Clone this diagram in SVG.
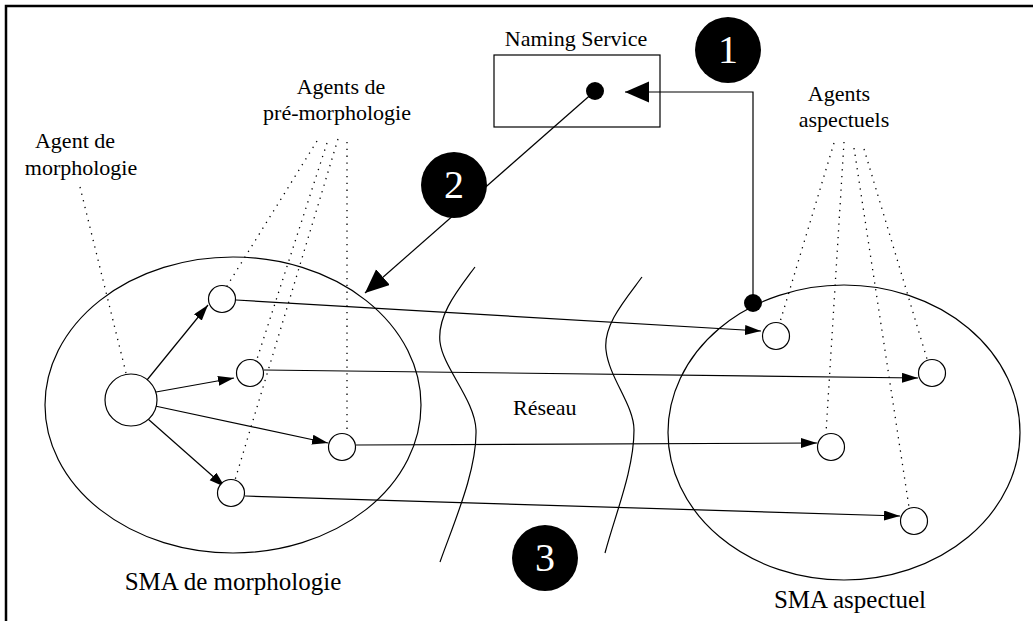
<svg xmlns="http://www.w3.org/2000/svg" width="1033" height="621" viewBox="0 0 1033 621">
<style>
.ln{fill:none;stroke:#000;stroke-width:1.2}
.dot{fill:none;stroke:#000;stroke-width:1.3;stroke-dasharray:1.3 5.5}
.ag{fill:#fff;stroke:#000;stroke-width:1.2}
.t{font-family:"Liberation Serif",serif;font-size:22px;fill:#000}
.big{font-family:"Liberation Serif",serif;font-size:25px;fill:#000}
.num{font-family:"Liberation Serif",serif;font-size:40px;fill:#fff;text-anchor:middle}
</style>
<defs>
<marker id="sa" markerUnits="userSpaceOnUse" markerWidth="18" markerHeight="12" refX="16" refY="5" orient="auto">
<path d="M0,0 L16,5 L0,10 Z" fill="#000"/>
</marker>
<marker id="la" markerUnits="userSpaceOnUse" markerWidth="26" markerHeight="22" refX="24" refY="10.5" orient="auto">
<path d="M0,0 L24,10.5 L0,21 Z" fill="#000"/>
</marker>
</defs>
<rect width="1033" height="621" fill="#fff"/>
<path d="M6,621 V6 H1033" fill="none" stroke="#000" stroke-width="2.5"/>

<g id="network">
<path class="ln" d="M475,267 C458,290 437,315 440,342 C443,368 475,400 476,430 C477,470 455,520 440,562"/>
<path class="ln" d="M642,277 C625,300 603,325 606,350 C609,378 634,405 634,430 C634,470 615,515 605,553"/>
<text class="t" x="513" y="415">Réseau</text>
</g>

<g id="sma-morphologie">
<ellipse class="ln" cx="233" cy="405" rx="188" ry="148"/>
<text class="big" x="233" y="590" text-anchor="middle">SMA de morphologie</text>
</g>
<g id="sma-aspectuel">
<ellipse class="ln" cx="844" cy="432.5" rx="176" ry="147.5"/>
<text class="big" x="850" y="608" text-anchor="middle">SMA aspectuel</text>
</g>

<g id="naming-service">
<rect class="ln" x="494" y="55" width="166" height="72"/>
<text class="t" x="576" y="46" text-anchor="middle">Naming Service</text>
<circle cx="595" cy="91" r="9" fill="#000"/>
</g>

<g id="labels">
<text class="t" x="75" y="148" text-anchor="middle">Agent de</text>
<text class="t" x="81" y="175" text-anchor="middle">morphologie</text>
<text class="t" x="341" y="94" text-anchor="middle">Agents de</text>
<text class="t" x="337" y="120" text-anchor="middle">pré-morphologie</text>
<text class="t" x="839" y="101" text-anchor="middle">Agents</text>
<text class="t" x="844" y="127" text-anchor="middle">aspectuels</text>
</g>

<g id="step1"><circle cx="728" cy="50" r="33" fill="#000"/><text class="num" x="728" y="63">1</text></g>
<g id="step2"><circle cx="454" cy="185" r="33" fill="#000"/><text class="num" x="454" y="198">2</text></g>
<g id="step3"><circle cx="545" cy="558" r="33" fill="#000"/><text class="num" x="545" y="571">3</text></g>

<g id="connectors">
<path class="dot" d="M80,187 L126,373"/>
<path class="dot" d="M317,141 L227,286"/>
<path class="dot" d="M327,143 L257,359"/>
<path class="dot" d="M338,139 L235,480"/>
<path class="dot" d="M347,142 L347,434"/>
<path class="dot" d="M834,143 L780,322"/>
<path class="dot" d="M844,142 L826,433"/>
<path class="dot" d="M854,148 L909,507"/>
<path class="dot" d="M864,149 L927,359"/>

<path class="ln" d="M147,380 L208,305" marker-end="url(#sa)"/>
<path class="ln" d="M156,392 L234,378" marker-end="url(#sa)"/>
<path class="ln" d="M155,406 L328,443" marker-end="url(#sa)"/>
<path class="ln" d="M148,419 L225,487" marker-end="url(#sa)"/>

<path class="ln" d="M236,300 L761,331" marker-end="url(#sa)"/>
<path class="ln" d="M264,370 L918,378" marker-end="url(#sa)"/>
<path class="ln" d="M356,445 L817,443" marker-end="url(#sa)"/>
<path class="ln" d="M245,496 L900,516" marker-end="url(#sa)"/>

<path class="ln" d="M595,91 L365,293" marker-end="url(#la)"/>
<path class="ln" d="M753,303 V92 H625" marker-end="url(#la)"/>
<circle cx="753" cy="303" r="9" fill="#000"/>
</g>

<g id="agents">
<circle class="ag" cx="131" cy="400" r="26"/>
<circle class="ag" cx="222" cy="299" r="13.5"/>
<circle class="ag" cx="250" cy="373" r="13.5"/>
<circle class="ag" cx="342" cy="447" r="13.5"/>
<circle class="ag" cx="231" cy="493" r="13.5"/>
<circle class="ag" cx="776" cy="336" r="13.5"/>
<circle class="ag" cx="932" cy="373" r="13.5"/>
<circle class="ag" cx="831" cy="447" r="13.5"/>
<circle class="ag" cx="914" cy="521" r="13.5"/>
</g>
</svg>
